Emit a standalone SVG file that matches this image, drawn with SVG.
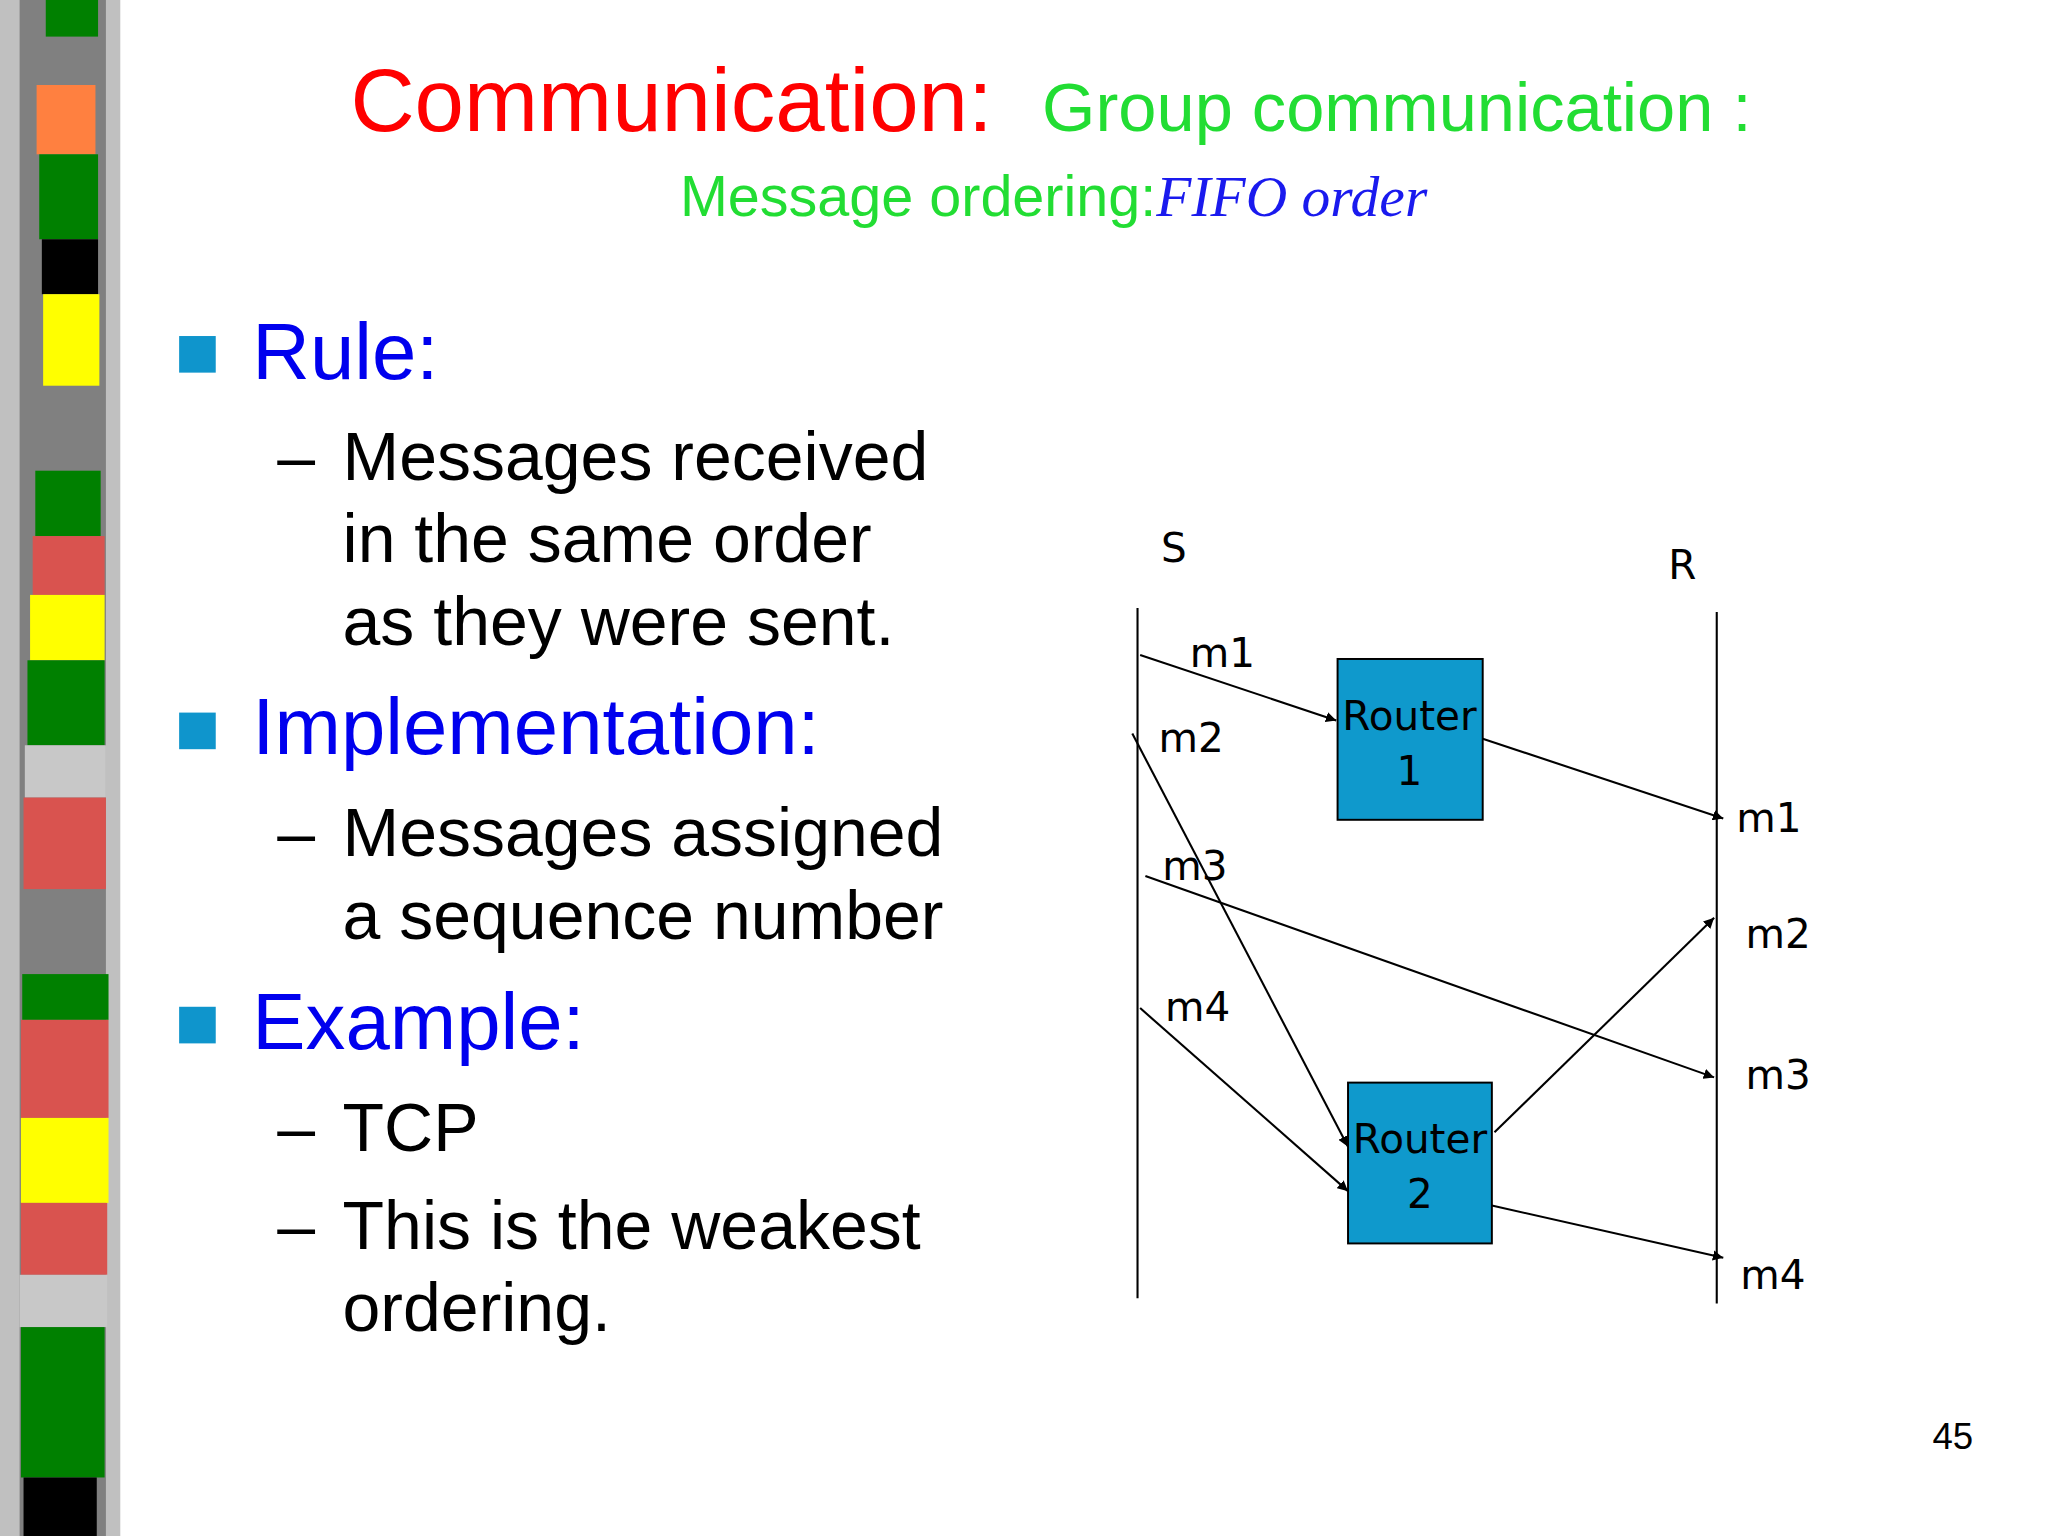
<svg xmlns="http://www.w3.org/2000/svg" width="2048" height="1536" viewBox="0 0 2048 1536">
<defs>
<style>
.t{font-family:"Liberation Sans",Arial,sans-serif}
.d{font-family:"DejaVu Sans",Verdana,sans-serif;font-size:31px;fill:#000}
.b{font-family:"Liberation Sans",Arial,sans-serif;font-size:52px;fill:#000}
.h{font-family:"Liberation Sans",Arial,sans-serif;font-size:61px;fill:#0000ee}
.bul{fill:#0f95cc}
.ln{stroke:#000;stroke-width:1.6;fill:none}
.box{fill:#0f99cc;stroke:#000;stroke-width:1.5}
</style>
<marker id="a" viewBox="0 0 10 10" refX="10" refY="5" markerWidth="8" markerHeight="8" orient="auto" markerUnits="userSpaceOnUse"><path d="M0,0L10,5L0,10z" fill="#000"/></marker>
</defs>
<rect width="2048" height="1536" fill="#fff"/>
<g transform="scale(1.3075)">
<g id="strip">
<rect x="0" y="0" width="92" height="1175" fill="#c0c0c0"/>
<rect x="15" y="0" width="66" height="1175" fill="#808080"/>
<rect x="35" y="0" width="40" height="28" fill="#008000"/>
<rect x="28" y="65" width="45" height="53" fill="#ff8040"/>
<rect x="30" y="118" width="45" height="65" fill="#008000"/>
<rect x="32" y="183" width="43" height="42" fill="#000"/>
<rect x="33" y="225" width="43" height="70" fill="#ffff00"/>
<rect x="27" y="360" width="50" height="50" fill="#008000"/>
<rect x="25" y="410" width="55" height="45" fill="#d9534f"/>
<rect x="23" y="455" width="57" height="50" fill="#ffff00"/>
<rect x="21" y="505" width="59" height="65" fill="#008000"/>
<rect x="19" y="570" width="62" height="40" fill="#c8c8c8"/>
<rect x="18" y="610" width="63" height="70" fill="#d9534f"/>
<rect x="17" y="745" width="66" height="35" fill="#008000"/>
<rect x="16" y="780" width="67" height="75" fill="#d9534f"/>
<rect x="16" y="855" width="67" height="65" fill="#ffff00"/>
<rect x="16" y="920" width="66" height="55" fill="#d9534f"/>
<rect x="15" y="975" width="67" height="40" fill="#c8c8c8"/>
<rect x="16" y="1015" width="64" height="115" fill="#008000"/>
<rect x="18" y="1130" width="56" height="45" fill="#000"/>
</g>
<g id="title">
<text class="t" x="268" y="100" font-size="68" fill="#ff0000">Communication:</text>
<text class="t" x="797" y="100" font-size="52.5" fill="#22dd33">Group communication :</text>
<text x="520" y="165" font-size="44"><tspan class="t" fill="#22dd33">Message ordering:</tspan><tspan font-family="Liberation Serif,serif" font-style="italic" fill="#1a1aee">FIFO order</tspan></text>
</g>
<g id="bullets">
<rect class="bul" x="137" y="257" width="28" height="28"/>
<text class="h" x="193" y="290">Rule:</text>
<text class="b" x="212" y="367">–</text>
<text class="b" x="262" y="367">Messages received</text>
<text class="b" x="262" y="430">in the same order</text>
<text class="b" x="262" y="493">as they were sent.</text>
<rect class="bul" x="137" y="545" width="28" height="28"/>
<text class="h" x="193" y="577">Implementation:</text>
<text class="b" x="212" y="655">–</text>
<text class="b" x="262" y="655">Messages assigned</text>
<text class="b" x="262" y="718">a sequence number</text>
<rect class="bul" x="137" y="770" width="28" height="28"/>
<text class="h" x="193" y="802">Example:</text>
<text class="b" x="212" y="880">–</text>
<text class="b" x="262" y="880">TCP</text>
<text class="b" x="212" y="955">–</text>
<text class="b" x="262" y="955">This is the weakest</text>
<text class="b" x="262" y="1018">ordering.</text>
</g>
<g id="S"><text class="d" x="888" y="430">S</text></g>
<g id="R"><text class="d" x="1276" y="443">R</text></g>
<g id="router1"><rect class="box" x="1023" y="504" width="111" height="123"/><text class="d" x="1078" y="558" text-anchor="middle">Router</text><text class="d" x="1078" y="600" text-anchor="middle">1</text></g>
<g id="router2"><rect class="box" x="1031" y="828" width="110" height="123"/><text class="d" x="1086" y="882" text-anchor="middle">Router</text><text class="d" x="1086" y="924" text-anchor="middle">2</text></g>
<g id="connectors">
<line class="ln" x1="870" y1="465" x2="870" y2="993"/>
<line class="ln" x1="1313" y1="468" x2="1313" y2="997"/>
<line class="ln" x1="872" y1="501" x2="1022" y2="551" marker-end="url(#a)"/>
<line class="ln" x1="1134" y1="565" x2="1318" y2="626" marker-end="url(#a)"/>
<line class="ln" x1="866" y1="561" x2="1031" y2="877" marker-end="url(#a)"/>
<line class="ln" x1="1143" y1="866" x2="1311" y2="702" marker-end="url(#a)"/>
<line class="ln" x1="876" y1="670" x2="1311" y2="824" marker-end="url(#a)"/>
<line class="ln" x1="872" y1="771" x2="1031" y2="911" marker-end="url(#a)"/>
<line class="ln" x1="1141" y1="922" x2="1318" y2="962" marker-end="url(#a)"/>
</g>
<g id="labels">
<text class="d" x="910" y="510">m1</text>
<text class="d" x="886" y="575">m2</text>
<text class="d" x="889" y="673">m3</text>
<text class="d" x="891" y="781">m4</text>
<text class="d" x="1328" y="636">m1</text>
<text class="d" x="1335" y="725">m2</text>
<text class="d" x="1335" y="833">m3</text>
<text class="d" x="1331" y="986">m4</text>
<text class="t" x="1478" y="1108" font-size="28" fill="#000">45</text>
</g>
</g>
</svg>
